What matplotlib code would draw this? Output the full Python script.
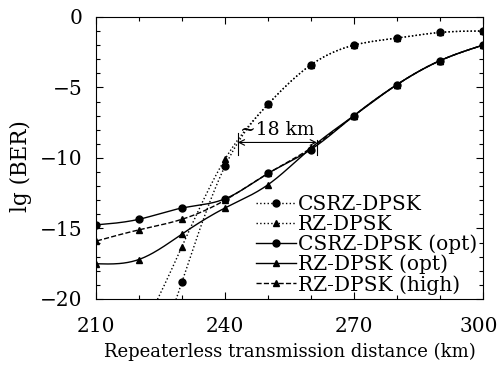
import numpy as np
import matplotlib.pyplot as plt
from matplotlib.ticker import MultipleLocator

plt.rcParams['font.family'] = ['DejaVu Serif']
plt.rcParams['mathtext.fontset'] = 'dejavuserif'

# distances (km)
dist = [210, 220, 230, 240, 250, 260, 270, 280, 290, 300]
dist_noopt = [230, 240, 250, 260, 270, 280, 290, 300]
xtick_vals = [210, 240, 270, 300]

# lg(BER) values
csrz = [-18.8, -10.6, -6.2, -3.4, -2.0, -1.5, -1.1, -1.0]
rz = [-16.3, -10.1, -6.2, -3.4, -2.0, -1.5, -1.1, -1.0]
csrz_opt = [-14.75, -14.35, -13.55, -12.9, -11.1, -9.4, -7.0, -4.8, -3.1, -2.0]
rz_opt = [-17.5, -17.2, -15.4, -13.55, -11.9, -9.3, -7.0, -4.8, -3.1, -2.0]
rz_high = [-15.9, -15.1, -14.35, -13.0, -11.1, -9.3, -7.0, -4.8, -3.1, -2.0]

# ~18 km marker
gap_start, gap_end, gap_level = 243.0, 261.4, -8.9


def smooth(x, y, xs):
    """natural cubic spline through the points (extrapolates at the ends)"""
    x = np.asarray(x, float)
    y = np.asarray(y, float)
    n = len(x)
    h = np.diff(x)
    A = np.zeros((n, n))
    b = np.zeros(n)
    A[0, 0] = A[-1, -1] = 1
    for i in range(1, n - 1):
        A[i, i - 1] = h[i - 1]
        A[i, i] = 2 * (h[i - 1] + h[i])
        A[i, i + 1] = h[i]
        b[i] = 6 * ((y[i + 1] - y[i]) / h[i] - (y[i] - y[i - 1]) / h[i - 1])
    M = np.linalg.solve(A, b)
    idx = np.clip(np.searchsorted(x, xs) - 1, 0, n - 2)
    x0, x1 = x[idx], x[idx + 1]
    hh = x1 - x0
    t0 = x1 - xs
    t1 = xs - x0
    return ((M[idx] * t0 ** 3 + M[idx + 1] * t1 ** 3) / (6 * hh)
            + (y[idx] / hh - M[idx] * hh / 6) * t0
            + (y[idx + 1] / hh - M[idx + 1] * hh / 6) * t1)


fig = plt.figure(figsize=(4.99, 3.68), dpi=100)
ax = fig.add_axes([0.192, 0.1875, 0.776, 0.7665])

series = [
    (dist_noopt, csrz, ':', 'o', 'CSRZ-DPSK'),
    (dist_noopt, rz, ':', '^', 'RZ-DPSK'),
    (dist, csrz_opt, '-', 'o', 'CSRZ-DPSK (opt)'),
    (dist, rz_opt, '-', '^', 'RZ-DPSK (opt)'),
    (dist, rz_high, '--', '^', 'RZ-DPSK (high)'),
]
for x, y, ls, mk, lab in series:
    xs = np.linspace(x[0] - 8, x[-1], 300)
    ax.plot(xs, smooth(x, y, xs), color='black', ls=ls, lw=1.0)
    ax.plot(x, y, ls='none', marker=mk, color='black', ms=5)
    ax.plot([], [], color='black', ls=ls, lw=1.0, marker=mk, ms=5, label=lab)

# ~18 km gap annotation
ax.annotate('', xy=(gap_start, gap_level), xytext=(gap_end, gap_level),
            arrowprops=dict(arrowstyle='<->', color='black', lw=0.8,
                            shrinkA=0, shrinkB=0))
ax.plot([gap_start, gap_start], [gap_level + 0.7, gap_level - 0.9],
        color='black', lw=0.8)
ax.plot([gap_end, gap_end], [gap_level + 0.2, gap_level - 0.9],
        color='black', lw=0.8)
ax.text(gap_start + 0.4, gap_level + 0.25, '~18 km', fontsize=13.5,
        ha='left', va='bottom')

ax.set_xlim(210, 300)
ax.set_ylim(-20, 0)
# last label ("300") drawn separately, nudged so it stays inside the figure
ax.set_xticks(xtick_vals, labels=[str(v) for v in xtick_vals[:-1]] + [''])
ax.annotate(str(xtick_vals[-1]), xy=(xtick_vals[-1], 0),
            xycoords=('data', 'axes fraction'), xytext=(-3, -13),
            textcoords='offset points', ha='center', va='top', fontsize=14.5)
ax.xaxis.set_minor_locator(MultipleLocator(10))
ax.yaxis.set_major_locator(MultipleLocator(5))
ax.yaxis.set_minor_locator(MultipleLocator(1))
ax.tick_params(which='both', direction='in', top=True, right=True,
               labelsize=14.5, width=0.8)
ax.tick_params(which='major', length=5)
ax.tick_params(which='minor', length=3)
ax.tick_params(axis='x', which='major', pad=13)
ax.tick_params(axis='y', which='major', pad=9.5)
for sp in ax.spines.values():
    sp.set_linewidth(0.8)

ax.set_xlabel('Repeaterless transmission distance (km)', fontsize=13,
              labelpad=5)
ax.set_ylabel('lg (BER)', fontsize=15.5)
ax.yaxis.set_label_coords(-0.165, 0.472)

ax.legend(loc='lower right', bbox_to_anchor=(1.016, -0.027), frameon=False,
          fontsize=14.5, numpoints=1, handlelength=2.0, handletextpad=0.1,
          labelspacing=0.03, borderaxespad=0.2)

fig.savefig('out.png', dpi=100)
